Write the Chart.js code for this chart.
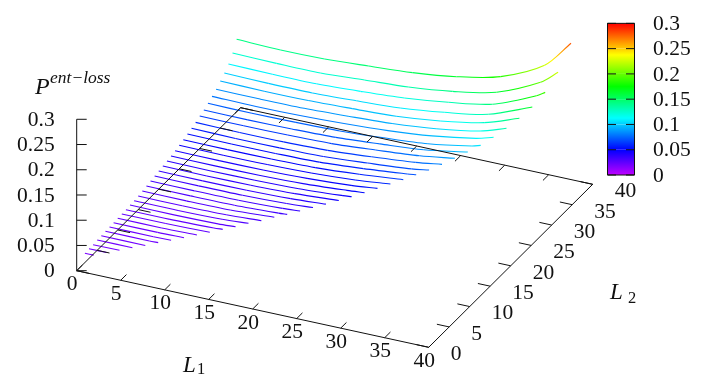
<!DOCTYPE html>
<html>
<head>
<meta charset="utf-8">
<title>P ent-loss</title>
<script src="https://cdn.jsdelivr.net/npm/chart.js@4"></script>
<style>
  html, body { margin: 0; padding: 0; background: #fff; }
  canvas { display: block; }
</style>
</head>
<body>
<canvas id="myChart" width="720" height="380"></canvas>
<script>
// P at L1 = 0, 5, 10, ... for one L2, the last entry of each is at L1 = L2 - 1
const p02 = [.0183, .0185];
const p03 = [.0194, .0194];
const p04 = [.0192, .0195];
const p05 = [.0204, .0204];
const p06 = [.0209, .0205];
const p07 = [.0216, .0214, .0218];
const p08 = [.022, .0218, .0222];
const p09 = [.0224, .0222, .023];
const p10 = [.0232, .023, .0242];
const p11 = [.0236, .0236, .0252];
const p12 = [.024, .0238, .0258, .0268];
const p13 = [.0252, .0246, .0258, .0277];
const p14 = [.0257, .0253, .0268, .0302];
const p15 = [.0269, .0265, .0276, .0311];
const p16 = [.0287, .0282, .029, .0335];
const p17 = [.0305, .03, .0305, .0338, .0351];
const p18 = [.0324, .0318, .0322, .035, .0375];
const p19 = [.0343, .0337, .034, .0365, .04];
const p20 = [.0361, .0355, .036, .0383, .0425];
const p21 = [.0378, .0372, .0378, .04, .0455];
const p22 = [.0396, .039, .0396, .0418, .047, .0487];
const p23 = [.0416, .041, .0415, .0438, .0493, .0523];
const p24 = [.044, .0433, .0438, .046, .0511, .0567];
const p25 = [.0466, .046, .0464, .0487, .0539, .061];
const p26 = [.0496, .049, .0492, .0512, .057, .0652];
const p27 = [.0529, .052, .0523, .054, .0602, .0686, .0707];
const p28 = [.0561, .055, .0553, .057, .0632, .0705, .0759];
const p29 = [.0598, .0588, .059, .0612, .0674, .0753, .0828];
const p30 = [.0643, .0638, .0645, .0665, .0728, .0803, .0905];
const p31 = [.0682, .0675, .0685, .0708, .0769, .0841, .0987];
const p32 = [.0733, .0725, .0735, .0755, .0808, .088, .1025, .1076];
const p33 = [.079, .078, .079, .082, .087, .0955, .1096, .1193];
const p34 = [.0849, .0845, .0852, .0885, .093, .1017, .116, .1328];
const p35 = [.0933, .092, .0925, .0955, .0993, .109, .1246, .1484];
const p36 = [.101, .0995, .0995, .103, .1076, .118, .133, .1664];
const p37 = [.1108, .1095, .1095, .1135, .1193, .1298, .145, .1807, .1912];
const p38 = [.1245, .123, .1228, .128, .133, .1434, .1605, .1993, .2267];
const p39 = [.1436, .1414, .1426, .1476, .1534, .1644, .1835, .2249, .28];

const curves = [p02, p03, p04, p05, p06, p07, p08, p09, p10, p11, p12, p13, p14, p15, p16, p17, p18, p19, p20,
    p21, p22, p23, p24, p25, p26, p27, p28, p29, p30, p31, p32, p33, p34, p35, p36, p37, p38, p39];
const firstL2 = 2;

const axisTicks = [0, 5, 10, 15, 20, 25, 30, 35, 40];
const axisLabels = ["0", "5", "10", "15", "20", "25", "30", "35", "40"];
const zTicks = [0, 0.05, 0.1, 0.15, 0.2, 0.25, 0.3];
const zLabels = ["0", "0.05", "0.1", "0.15", "0.2", "0.25", "0.3"];

// view of the box: where one unit of L1, L2 and P lands on the canvas
function proj(l1, l2, p) {
    return {
        x: 76.7 + l1 * 8.8 + l2 * 4.1,
        y: 270.7 + l1 * 1.915 - l2 * 4.075 - p * 504.7
    };
}

// colour box on the right
function cbY(p) {
    return 175 - p * 505.5;
}

function paletteColor(p) {
    let hue = p < 0.05 ? 285 - 900 * p : 240 - 960 * (p - 0.05);
    return "hsl(" + hue + ",100%,50%)";
}

// blends the palette along one piece of a line
function segmentColor(ctx, values) {
    let a = values[ctx.p0DataIndex];
    let b = values[ctx.p1DataIndex];
    let g = ctx.chart.ctx.createLinearGradient(ctx.p0.x, ctx.p0.y, ctx.p1.x, ctx.p1.y);
    for (let t = 0; t <= 4; t++) {
        g.addColorStop(t / 4, paletteColor(a + (b - a) * t / 4));
    }
    return g;
}

let datasets = [];

// axes and ticks, single dataset with gaps
let frame = [];
function addLine(a, b) {
    frame.push(a, b, { x: NaN, y: NaN });
}
addLine(proj(0, 0, 0), proj(40, 0, 0));
addLine(proj(40, 0, 0), proj(40, 40, 0));
addLine(proj(40, 40, 0), proj(0, 40, 0));
addLine(proj(0, 40, 0), proj(0, 0, 0));
addLine(proj(0, 0, 0), proj(0, 0, 0.3));
for (let t of axisTicks) {
    addLine(proj(t, 0, 0), proj(t, 1.4, 0));
    addLine(proj(t, 40, 0), proj(t, 38.6, 0));
    addLine(proj(0, t, 0), proj(1.4, t, 0));
    addLine(proj(40, t, 0), proj(38.6, t, 0));
}
for (let t of zTicks) {
    let a = proj(0, 0, t);
    addLine(a, { x: a.x + 10, y: a.y });
}

// colour box outline and its ticks
addLine({ x: 607.5, y: cbY(0) }, { x: 634.5, y: cbY(0) });
addLine({ x: 634.5, y: cbY(0) }, { x: 634.5, y: cbY(0.3) });
addLine({ x: 634.5, y: cbY(0.3) }, { x: 607.5, y: cbY(0.3) });
addLine({ x: 607.5, y: cbY(0.3) }, { x: 607.5, y: cbY(0) });
for (let t of zTicks) {
    addLine({ x: 607.5, y: cbY(t) }, { x: 616, y: cbY(t) });
    addLine({ x: 626, y: cbY(t) }, { x: 634.5, y: cbY(t) });
}

datasets.push({
    data: frame,
    showLine: true,
    spanGaps: false,
    borderColor: "#111",
    borderWidth: 1,
    pointRadius: 0
});

// colour box fill
datasets.push({
    data: zTicks.map(t => ({ x: 621, y: cbY(t) })),
    showLine: true,
    borderWidth: 27,
    borderCapStyle: "butt",
    pointRadius: 0,
    segment: { borderColor: ctx => segmentColor(ctx, zTicks) }
});

// one line per L2
curves.forEach(function (values, i) {
    let l2 = firstL2 + i;
    let points = values.map(function (p, k) {
        let l1 = k === values.length - 1 ? l2 - 1 : k * 5;
        return proj(l1, l2, p);
    });
    datasets.push({
        data: points,
        showLine: true,
        borderWidth: 1.1,
        pointRadius: 0,
        tension: 0.3,
        segment: { borderColor: ctx => segmentColor(ctx, values) }
    });
});

const textPlugin = {
    id: "boxText",
    afterDraw(chart) {
        let c = chart.ctx;
        let sx = chart.scales.x;
        let sy = chart.scales.y;
        function put(text, x, y, font, align, base) {
            c.font = font;
            c.textAlign = align;
            c.textBaseline = base;
            c.fillText(text, sx.getPixelForValue(x), sy.getPixelForValue(y));
        }
        const tickFont = "21.5px 'Liberation Serif'";
        c.save();
        c.fillStyle = "#111";
        axisTicks.forEach(function (t, i) {
            let a = proj(t, 0, 0);
            put(axisLabels[i], a.x - 4.5, a.y + 14, tickFont, "center", "middle");
            let b = proj(40, t, 0);
            put(axisLabels[i], b.x + 22, b.y + 7.3, tickFont, "left", "middle");
        });
        zTicks.forEach(function (t, i) {
            let a = proj(0, 0, t);
            put(zLabels[i], a.x - 22, a.y + 1, tickFont, "right", "middle");
            put(zLabels[i], 653, cbY(t) + 1, tickFont, "left", "middle");
        });
        put("P", 35, 94, "italic 24px 'Liberation Serif'", "left", "alphabetic");
        put("ent\u2212loss", 50, 83, "italic 17.5px 'Liberation Serif'", "left", "alphabetic");
        put("L", 183, 372, "italic 23px 'Liberation Serif'", "left", "alphabetic");
        put("1", 197, 374, "16.5px 'Liberation Serif'", "left", "alphabetic");
        put("L", 610, 299, "italic 23px 'Liberation Serif'", "left", "alphabetic");
        put("2", 628, 303, "16.5px 'Liberation Serif'", "left", "alphabetic");
        c.restore();
    }
};

let ctx = document.getElementById("myChart").getContext("2d");
let myChart = new Chart(ctx, {
    type: "scatter",
    data: { datasets: datasets },
    options: {
        responsive: false,
        animation: false,
        layout: { padding: 0 },
        plugins: { legend: { display: false }, tooltip: { enabled: false } },
        scales: {
            x: { type: "linear", min: 0, max: 720, display: false },
            y: { type: "linear", min: 0, max: 380, reverse: true, display: false }
        }
    },
    plugins: [textPlugin]
});
</script>
</body>
</html>
